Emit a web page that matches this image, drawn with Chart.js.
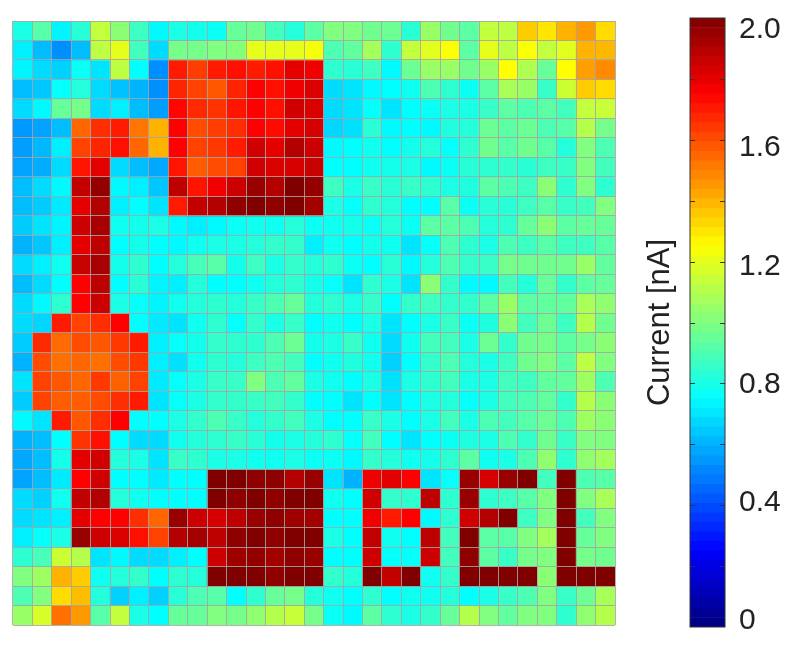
<!DOCTYPE html>
<html>
<head>
<meta charset="utf-8">
<style>
  html, body { margin: 0; padding: 0; background: #fff; }
  body { position: relative; width: 800px; height: 645px; overflow: hidden; }
  canvas { position: absolute; }
  #heatmap { left: 12px; top: 20px; }
  #colorbar { left: 630px; top: 0; }
</style>
<script src="https://cdn.jsdelivr.net/npm/chart.js@4"></script>
</head>
<body>
<canvas id="heatmap" width="604" height="606"></canvas>
<canvas id="colorbar" width="170" height="645"></canvas>
<script>
// Data, one list per row from the top
const columns = [1, 2, 3, 4, 5, 6, 7, 8, 9, 10, 11, 12, 13, 14, 15, 16, 17, 18, 19, 20, 21, 22, 23, 24, 25, 26, 27, 28, 29, 30, 31];
const currentRows = [
  [.80, .92, .73, .83, 1.13, 1.02, .87, .74, .80, .79, .77, .95, .97, .88, .82, .93, 1.0, 1.0, .97, .96, .83, 1.05, .97, .93, 1.13, 1.12, 1.35, 1.3, 1.4, 1.45, 1.32],
  [.72, .62, .53, .62, 1.12, 1.2, .88, .68, .98, .98, 1.0, 1.01, 1.2, 1.2, 1.2, 1.23, .9, .94, 1.07, .84, 1.13, 1.19, 1.24, .93, 1.2, 1.12, 1.24, 1.13, 1.19, 1.40, 1.39],
  [.73, .68, .66, .77, .70, 1.12, .75, .53, 1.70, 1.63, 1.70, 1.72, 1.70, 1.72, 1.80, 1.78, .84, .83, .87, .74, .96, 1.05, 1.05, .97, 1.05, 1.25, 1.09, .95, 1.25, 1.44, 1.48],
  [.62, .64, .76, .82, .68, .63, .60, .53, 1.68, 1.62, 1.58, 1.68, 1.75, 1.72, 1.78, 1.82, .68, .70, .74, .75, .78, .90, .84, .77, .93, 1.08, 1.05, .86, 1.15, 1.35, 1.32],
  [.68, .74, .95, .98, .68, .72, .62, .56, 1.74, 1.67, 1.65, 1.71, 1.75, 1.72, 1.84, 1.82, .68, .70, .76, .70, .75, .77, .80, .80, .86, .93, .90, .93, .88, 1.13, 1.14],
  [.55, .57, .62, 1.55, 1.66, 1.70, 1.52, 1.40, 1.75, 1.60, 1.63, 1.66, 1.75, 1.73, 1.80, 1.83, .67, .69, .83, .74, .75, .74, .81, .82, .96, .93, .96, .90, .92, 1.10, .98],
  [.56, .61, .72, 1.62, 1.68, 1.72, 1.55, 1.40, 1.75, 1.62, 1.64, 1.70, 1.84, 1.80, 1.90, 1.85, .74, .75, .78, .75, .79, .82, .76, .84, .97, .92, .97, .92, .82, 1.0, .90],
  [.57, .59, .68, 1.71, 1.80, .68, .62, .58, 1.71, 1.57, 1.60, 1.62, 1.84, 1.82, 1.83, 1.86, .75, .75, .78, .79, .80, .74, .77, .83, .84, .85, .83, .87, .86, 1.0, .88],
  [.62, .68, .74, 1.87, 1.96, .74, .72, .64, 1.88, 1.71, 1.78, 1.85, 1.95, 1.90, 2.0, 1.96, .87, .80, .86, .83, .86, .84, .80, .81, .93, .90, .87, 1.02, .84, 1.0, .84],
  [.62, .65, .71, 1.80, 1.90, .72, .75, .70, 1.70, 1.87, 1.90, 1.97, 2.0, 1.97, 2.0, 1.93, .80, .76, .84, .82, .75, .75, .92, .77, .83, .83, .87, .92, .86, .88, 1.0],
  [.65, .70, .73, 1.85, 1.92, .78, .79, .80, .74, .72, .74, .77, .78, .78, .82, .77, .78, .79, .77, .82, .77, .93, .93, .90, .82, .84, .95, 1.02, .93, .95, .95],
  [.60, .64, .72, 1.80, 1.88, .75, .79, .75, .74, .78, .80, .80, .82, .85, .85, .72, .78, .75, .79, .78, .70, .76, .90, .84, .80, .90, .87, .92, .87, .87, .92],
  [.68, .72, .78, 1.86, 1.92, .79, .84, .75, .82, .89, .92, .79, .87, .80, .85, .82, .84, .77, .75, .83, .74, .82, .90, .85, .86, .98, .97, .97, .97, 1.05, .94],
  [.62, .68, .75, 1.75, 1.88, .75, .83, .73, .72, .82, .75, .75, .78, .82, .84, .79, .76, .70, .84, .80, .70, 1.02, .85, .74, .74, .88, .82, .95, .85, .93, .95],
  [.68, .74, .84, 1.75, 1.85, .80, .76, .73, .78, .82, .84, .82, .86, .90, .95, .82, .84, .80, .85, .75, .85, .87, .85, .85, .93, 1.05, .93, .94, .94, 1.08, 1.03],
  [.68, .67, 1.70, 1.62, 1.66, 1.75, .75, .71, .70, .78, .84, .76, .85, .80, .86, .75, .78, .75, .80, .70, .75, .80, .86, .77, .81, 1.02, .88, .96, .87, 1.10, .97],
  [.65, 1.67, 1.54, 1.60, 1.58, 1.64, 1.70, .72, .76, .79, .85, .84, .84, .90, .96, .79, .80, .86, .78, .68, .78, .88, .88, .80, .96, .85, .97, .98, .93, .98, 1.02],
  [.60, 1.60, 1.53, 1.55, 1.53, 1.60, 1.64, .72, .69, .78, .84, .82, .87, .90, .88, .75, .78, .81, .78, .66, .75, .85, .90, .82, .80, .87, .97, 1.0, .93, 1.12, 1.0],
  [.70, 1.62, 1.58, 1.55, 1.64, 1.56, 1.62, .71, .76, .80, .86, .86, 1.00, .90, .94, .80, .78, .75, .80, .69, .80, .84, .88, .80, .80, .88, .87, .94, .94, 1.06, .90],
  [.65, 1.62, 1.57, 1.57, 1.60, 1.66, 1.70, .70, .76, .80, .85, .85, .86, .88, .85, .75, .75, .70, .75, .70, .75, .80, .82, .76, .80, .88, .90, .94, .85, 1.10, 1.02],
  [.74, .70, 1.70, 1.58, 1.66, 1.75, .75, .75, .80, .85, .90, .86, .82, .85, .88, .80, .75, .75, .86, .80, .75, .80, .88, .80, .90, .88, .92, .96, .90, 1.06, 1.02],
  [.60, .62, .75, 1.65, 1.72, .75, .68, .68, .78, .82, .84, .86, .83, .79, .80, .82, .84, .76, .88, .75, .70, .75, .77, .81, .80, .90, .85, .97, .86, 1.00, 1.0],
  [.58, .62, .79, 1.80, 1.84, .82, .80, .70, .86, .84, .80, .80, .78, .78, .80, .77, .77, .74, .85, .82, .78, .79, .84, .93, .78, .80, .90, 1.03, .84, 1.03, 1.07],
  [.57, .62, .71, 1.75, 1.84, .75, .75, .71, .75, .75, 2.0, 2.0, 1.97, 1.97, 1.90, 1.95, .70, .60, 1.78, 1.80, 1.75, .70, .76, 1.95, 1.83, 1.95, 2.0, .88, 2.0, .90, .92],
  [.68, .66, .78, 1.87, 1.90, .82, .78, .75, .75, .75, 2.0, 1.97, 2.0, 1.97, 2.0, 2.0, .78, .75, 1.84, .85, .84, 1.88, .84, 1.95, .84, .87, .92, 1.0, 2.0, 1.0, 1.08],
  [.68, .70, .72, 1.80, 1.75, 1.75, 1.66, 1.55, 1.95, 1.85, 1.83, 1.88, 1.95, 1.97, 1.94, 1.93, .75, .75, 1.78, 1.70, 1.75, .74, .84, 1.84, 1.90, 2.0, .87, 1.0, 2.0, .88, 1.0],
  [.72, .76, .80, 1.95, 1.85, 1.82, 1.72, 1.62, 1.90, 1.93, 1.88, 1.97, 2.0, 1.97, 2.0, 2.0, .80, .75, 1.87, .78, .75, 1.88, .88, 2.0, .93, .92, 1.0, 1.07, 2.0, .95, 1.0],
  [.84, .89, 1.15, 1.10, .70, .74, .68, .68, .72, .75, 1.85, 1.94, 1.96, 1.93, 1.97, 1.95, .75, .75, 1.85, .76, .76, 1.85, .88, 1.97, .93, .86, .98, 1.0, 2.0, .98, .97],
  [1.0, 1.06, 1.40, 1.35, .78, .82, .85, .75, .84, .82, 2.0, 2.0, 2.0, 1.97, 2.0, 2.0, .85, .82, 2.0, 1.87, 2.0, .78, .85, 2.0, 2.0, 2.0, 2.0, 1.02, 2.0, 2.0, 2.0],
  [.90, 1.0, 1.32, 1.38, .82, .66, .72, .66, .83, .90, .92, .75, .84, .95, .98, .82, .78, .75, .84, .75, .78, .78, .82, .75, .80, .86, .90, 1.0, .86, .96, 1.08],
  [1.05, 1.17, 1.53, 1.45, .92, 1.13, .80, .75, .95, .95, 1.0, .98, 1.03, 1.10, 1.14, .98, .77, .74, .93, .84, .80, .85, .95, 1.10, 1.0, .94, 1.0, 1.0, .84, 1.03, 1.10]
];
const tickMarks = [0, 0.2, 0.4, 0.6, 0.8, 1.0, 1.2, 1.4, 1.6, 1.8, 2.0];
const tickValues = [0, 0.4, 0.8, 1.2, 1.6, 2.0];
const tickLabels = ['0', '0.4', '0.8', '1.2', '1.6', '2.0'];
const maxCurrent = 2;
const colorLevels = 64;

// jet colormap
function jet(value) {
  const t = value / maxCurrent;
  const ramp = (a) => Math.round(255 * Math.max(0, Math.min(1, a)));
  const r = ramp(Math.min(4 * t - 1.5, -4 * t + 4.5));
  const g = ramp(Math.min(4 * t - 0.5, -4 * t + 3.5));
  const b = ramp(Math.min(4 * t + 0.5, -4 * t + 2.5));
  return `rgb(${r}, ${g}, ${b})`;
}

// Heatmap
new Chart('heatmap', {
  type: 'bar',
  data: {
    labels: columns,
    datasets: currentRows.map((row, i) => ({
      data: row.map(() => [i, i + 1]),
      backgroundColor: row.map(jet),
      borderWidth: 0,
      barPercentage: 1,
      categoryPercentage: 1
    }))
  },
  options: {
    responsive: false,
    animation: false,
    layout: { padding: 1 },
    plugins: { legend: { display: false }, tooltip: { enabled: false } },
    scales: {
      x: {
        stacked: true,
        grid: { color: 'rgba(165, 165, 165, 0.85)', z: 1, offset: true, drawTicks: false },
        border: { display: false },
        ticks: { display: false }
      },
      y: {
        reverse: true,
        min: 0,
        max: currentRows.length,
        grid: { color: 'rgba(165, 165, 165, 0.85)', z: 1, drawTicks: false },
        border: { display: false },
        ticks: { display: false, stepSize: 1 },
        afterFit: (scale) => { scale.width = 0; }
      }
    }
  }
});

// Colorbar frame and inward tick marks
const colorbarFrame = {
  id: 'colorbarFrame',
  afterDraw(chart) {
    const { ctx, chartArea: area, scales } = chart;
    ctx.save();
    ctx.strokeStyle = '#333333';
    ctx.lineWidth = 1;
    ctx.strokeRect(area.left, area.top, area.right - area.left, area.bottom - area.top);
    tickMarks.slice(1, -1).forEach((value) => {
      const y = Math.round(scales.y.getPixelForValue(value)) + 0.5;
      ctx.beginPath();
      ctx.moveTo(area.left, y);
      ctx.lineTo(area.left + 5, y);
      ctx.moveTo(area.right - 5, y);
      ctx.lineTo(area.right, y);
      ctx.stroke();
    });
    ctx.restore();
  }
};

const levels = [];
for (let i = 0; i < colorLevels; i++) {
  levels.push([i * maxCurrent / colorLevels, (i + 1) * maxCurrent / colorLevels]);
}

new Chart('colorbar', {
  type: 'bar',
  data: {
    labels: ['current'],
    datasets: levels.map((level) => ({
      data: [level],
      backgroundColor: jet((level[0] + level[1]) / 2),
      borderWidth: 0,
      barPercentage: 1,
      categoryPercentage: 1
    }))
  },
  plugins: [colorbarFrame],
  options: {
    responsive: false,
    animation: false,
    layout: { padding: { top: 18, bottom: 18 } },
    plugins: { legend: { display: false }, tooltip: { enabled: false } },
    scales: {
      x: { stacked: true, display: false },
      y: {
        position: 'left',
        min: 0,
        max: maxCurrent,
        grid: { display: false, drawTicks: false },
        border: { display: false },
        ticks: { display: false },
        title: {
          display: true,
          text: 'Current [nA]',
          color: '#222222',
          padding: { top: 12, bottom: 0 },
          font: { family: '"Liberation Sans"', size: 31 }
        },
        afterFit: (scale) => { scale.width = 60; }
      },
      labels: {
        position: 'right',
        min: -0.02,
        max: 2.04,
        grid: { display: false, drawTicks: false },
        border: { display: false },
        afterBuildTicks: (scale) => { scale.ticks = tickValues.map((value) => ({ value })); },
        ticks: {
          color: '#222222',
          padding: 14,
          autoSkip: false,
          font: { family: '"Liberation Sans"', size: 30 },
          callback: (value) => tickLabels[tickValues.indexOf(value)]
        },
        afterFit: (scale) => {
          scale.width = 75;
          scale.paddingTop = 0;
          scale.paddingBottom = 0;
        }
      }
    }
  }
});
</script>
</body>
</html>
